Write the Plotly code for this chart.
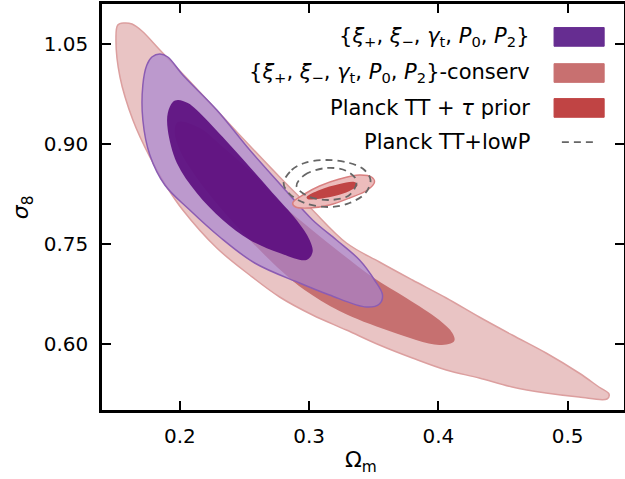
import plotly.graph_objects as go

# ---- contour outlines (Omega_m, sigma_8) ----
conserv95_om = [0.152, 0.1568, 0.163, 0.1707, 0.1846, 0.2154, 0.2463, 0.2772, 0.3004, 0.3289, 0.3544, 0.3799,
                0.4061, 0.4316, 0.4571, 0.4833, 0.5088, 0.5242, 0.532, 0.5304, 0.5088, 0.4833, 0.4571, 0.4316,
                0.4061, 0.3799, 0.3544, 0.3289, 0.3027, 0.2772, 0.254, 0.2286, 0.2023, 0.19, 0.1768, 0.1637,
                0.1537, 0.1506]
conserv95_s8 = [1.0785, 1.0815, 1.080, 1.0695, 1.041, 0.978, 0.9135, 0.8505, 0.8055, 0.7515, 0.723, 0.696,
                0.669, 0.6405, 0.6135, 0.5865, 0.5565, 0.5355, 0.525, 0.5175, 0.5205, 0.5265, 0.5355, 0.549,
                0.561, 0.579, 0.5985, 0.621, 0.6435, 0.6705, 0.7035, 0.744, 0.801, 0.8355, 0.8805, 0.936,
                1.0005, 1.056]

conserv68_om = [0.1985, 0.2154, 0.2332, 0.2595, 0.2795, 0.3004, 0.3235, 0.349, 0.3752, 0.4007, 0.4108, 0.4123,
                0.4007, 0.3621, 0.3235, 0.2965, 0.2795, 0.2541, 0.2309, 0.2116, 0.2, 0.1961]
conserv68_s8 = [0.933, 0.924, 0.8955, 0.8505, 0.8085, 0.774, 0.738, 0.7005, 0.669, 0.636, 0.6165, 0.6045,
                0.5985, 0.6195, 0.6495, 0.681, 0.708, 0.756, 0.8055, 0.8535, 0.891, 0.918]

fid95_om = [0.1784, 0.1846, 0.1907, 0.2023, 0.2286, 0.2541, 0.2795, 0.3027, 0.3212, 0.339, 0.3506, 0.3568,
            0.3544, 0.3444, 0.3158, 0.2926, 0.2579, 0.2309, 0.2077, 0.1884, 0.1768, 0.1714, 0.1714, 0.1745]
fid95_s8 = [1.0305, 1.035, 1.0305, 1.0035, 0.951, 0.891, 0.8355, 0.786, 0.756, 0.726, 0.696, 0.6735,
            0.66, 0.6555, 0.6735, 0.6915, 0.7215, 0.7605, 0.801, 0.8385, 0.8835, 0.936, 0.9885, 1.0185]

fid68_om = [0.1946, 0.1985, 0.2062, 0.2131, 0.2332, 0.2541, 0.2718, 0.2903, 0.3004, 0.3027, 0.2980, 0.2772,
            0.2541, 0.2332, 0.2131, 0.1977, 0.1907, 0.1907]
fid68_s8 = [0.963, 0.966, 0.9615, 0.951, 0.9105, 0.8655, 0.8265, 0.786, 0.756, 0.738, 0.726, 0.7365,
            0.756, 0.786, 0.8265, 0.8715, 0.921, 0.9465]

planck95_om = [0.2873, 0.2965, 0.3081, 0.3235, 0.339, 0.3483, 0.3506, 0.3452, 0.3313, 0.3158, 0.3004, 0.2896]
planck95_s8 = [0.8115, 0.825, 0.837, 0.8475, 0.8535, 0.8505, 0.843, 0.831, 0.819, 0.8085, 0.804, 0.8055]

planck68_om = [0.2981, 0.3081, 0.3235, 0.3351, 0.3375, 0.3313, 0.3197, 0.3066, 0.2988]
planck68_s8 = [0.8205, 0.831, 0.84, 0.843, 0.8385, 0.8295, 0.822, 0.8175, 0.8175]

lowp95_om = [0.2803, 0.2865, 0.2965, 0.3135, 0.3313, 0.3428, 0.3475, 0.3436, 0.3313, 0.3158, 0.2965, 0.2842]
lowp95_s8 = [0.8415, 0.861, 0.8715, 0.876, 0.8715, 0.861, 0.846, 0.8265, 0.8115, 0.8055, 0.8115, 0.8265]

lowp68_om = [0.2903, 0.2965, 0.3135, 0.329, 0.3367, 0.3313, 0.3158, 0.2988]
lowp68_s8 = [0.837, 0.8535, 0.864, 0.8595, 0.8445, 0.8235, 0.816, 0.822]

x_ticks = [0.2, 0.3, 0.4, 0.5]
y_ticks = [0.60, 0.75, 0.90, 1.05]
legend_labels = [
    "{<i>ξ</i><sub>+</sub>, <i>ξ</i><sub>−</sub>, <i>γ</i><sub>t</sub>, <i>P</i><sub>0</sub>, <i>P</i><sub>2</sub>}",
    "{<i>ξ</i><sub>+</sub>, <i>ξ</i><sub>−</sub>, <i>γ</i><sub>t</sub>, <i>P</i><sub>0</sub>, <i>P</i><sub>2</sub>}-conserv",
    "Planck TT + <i>τ</i> prior",
    "Planck TT+lowP",
]


def closed(a):
    return list(a) + [a[0]]


fig = go.Figure()


def region(xs, ys, fill, line, width=1.5):
    fig.add_trace(go.Scatter(x=closed(xs), y=closed(ys), mode="lines", fill="toself",
                             fillcolor=fill, line=dict(color=line, width=width, shape="spline", smoothing=1.0),
                             hoverinfo="skip", showlegend=False))


region(conserv95_om, conserv95_s8, "#e9c4c4", "#dc9f9f")
region(conserv68_om, conserv68_s8, "#c67070", "rgba(198,112,112,0)", 0.5)
region(fid95_om, fid95_s8, "rgba(165,130,210,0.65)", "#8b5cb3")
region(fid68_om, fid68_s8, "rgba(88,8,124,0.88)", "rgba(88,8,124,0)", 0.5)
region(planck95_om, planck95_s8, "#ecbcbc", "#d98080")
region(planck68_om, planck68_s8, "#c04444", "rgba(192,68,68,0)", 0.5)

for xs, ys in [(lowp95_om, lowp95_s8), (lowp68_om, lowp68_s8)]:
    fig.add_trace(go.Scatter(x=closed(xs), y=closed(ys), mode="lines",
                             line=dict(color="#666666", width=1.8, dash="7px,5px", shape="spline", smoothing=1.0),
                             hoverinfo="skip", showlegend=False))

FONT = "'DejaVu Sans', sans-serif"

# manual legend (text on the left of the swatch, as in the reference)
rows_y = [0.919, 0.830, 0.744, 0.660]
swatch_cols = ["#662d91", "#c87070", "#c04444"]
for i, lab in enumerate(legend_labels):
    fig.add_annotation(x=0.824, y=rows_y[i], xref="paper", yref="paper", text=lab, showarrow=False,
                       xanchor="right", yanchor="middle", font=dict(size=21, color="black", family=FONT))
for i, c in enumerate(swatch_cols):
    fig.add_shape(type="rect", xref="paper", yref="paper", x0=0.866, x1=0.962,
                  y0=rows_y[i] - 0.023, y1=rows_y[i] + 0.023, fillcolor=c, line=dict(color=c, width=1))
fig.add_shape(type="line", xref="paper", yref="paper", x0=0.881, x1=0.946, y0=rows_y[3], y1=rows_y[3],
              line=dict(color="#666666", width=1.8, dash="7px,5px"))

# axis titles
fig.add_annotation(x=0.497, y=-0.128, xref="paper", yref="paper", text="Ω<sub>m</sub>", showarrow=False,
                   xanchor="center", yanchor="middle", font=dict(size=22, color="black", family=FONT))
fig.add_annotation(x=-0.153, y=0.5, xref="paper", yref="paper", text="<i>σ</i><sub>8</sub>", showarrow=False,
                   textangle=-90, xanchor="center", yanchor="middle", font=dict(size=22, color="black", family=FONT))

axis_common = dict(showline=True, linecolor="black", linewidth=2.5, mirror="ticks", ticks="inside",
                   ticklen=9, tickwidth=1.5, tickcolor="black", showgrid=False, zeroline=False,
                   automargin=False, tickfont=dict(size=20, color="black", family=FONT))

fig.update_xaxes(range=[0.1398, 0.5436], tickvals=x_ticks, ticktext=[f"{v:.1f}" for v in x_ticks],
                 ticklabelstandoff=6, **axis_common)
fig.update_yaxes(range=[0.501, 1.110], tickvals=y_ticks, ticktext=[f"{v:.2f}" for v in y_ticks],
                 ticklabelstandoff=7, **axis_common)

fig.update_layout(width=625, height=479, margin=dict(l=102, r=1, t=4, b=69),
                  plot_bgcolor="white", paper_bgcolor="white", showlegend=False)

fig.write_html("out.html", config={"displayModeBar": False},
               post_script="document.body.style.margin='0px';")
